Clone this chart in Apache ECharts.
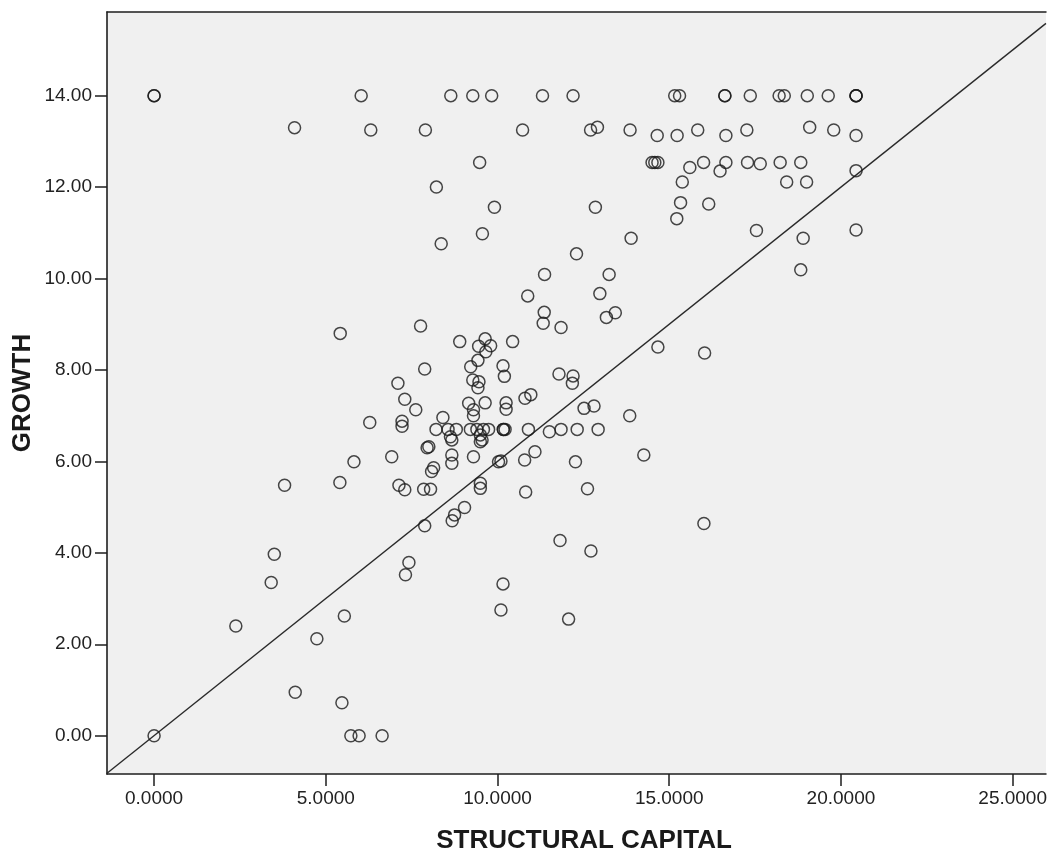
<!DOCTYPE html>
<html>
<head>
<meta charset="utf-8">
<script src="https://cdn.jsdelivr.net/npm/echarts@6/dist/echarts.min.js"></script>
<style>
html,body{margin:0;padding:0;background:#ffffff;}
#c{width:1050px;height:852px;}
</style>
</head>
<body>
<div id="c"></div>
<script>
// STRUCTURAL CAPITAL (x) values, grouped by rows of the picture
const structuralCapital = [
  0, 0, 6.03, 8.64, 9.28, 9.83, 11.31, 12.20, 15.16, 15.30, 16.62, 16.62, 17.36, 18.20, 18.35, 19.02, 19.63, 20.44, 20.44, 20.44,
  4.09, 6.31, 7.90, 10.73, 12.71, 12.91, 13.86, 14.65, 15.23, 15.83, 16.65, 17.26, 19.09, 19.79, 20.44,
  9.48, 14.50, 14.58, 14.67, 15.60, 16.00, 16.48, 16.65, 17.28, 17.65, 18.23, 18.83, 20.44,
  8.22, 15.38, 18.42, 19.00, 9.91, 12.85, 15.33, 16.15, 15.22, 8.36, 9.56, 13.89, 12.30, 17.54, 18.90, 20.44, 18.83, 11.37, 13.25, 10.88, 12.98,
  11.36, 11.33, 11.85, 13.17, 13.43, 7.76, 5.42, 14.67, 16.03,
  8.90, 9.64, 9.45, 9.80, 9.66, 9.43, 9.22, 10.44, 10.16, 10.20, 7.88, 9.28, 9.46, 9.43, 7.10,
  11.79, 12.20, 12.18, 7.30, 7.62, 10.80, 10.97, 10.25, 10.25, 9.64, 9.16, 9.30, 9.30, 8.41, 12.52, 12.81, 13.85, 6.28, 7.22, 7.22,
  8.21, 8.56, 8.80, 9.21, 9.40, 9.59, 9.74, 10.17, 10.17, 10.22, 10.90, 11.51, 11.85, 12.32, 12.93,
  8.63, 8.67, 9.50, 9.55, 9.50, 8.00, 7.95, 6.92, 5.82, 8.67, 8.67, 9.30, 8.14, 8.08, 10.10, 10.03, 10.79, 11.09, 12.27, 14.26,
  9.50, 9.50, 7.85, 8.05, 7.30, 7.13, 5.41, 3.80, 10.82, 12.62, 9.04, 8.75, 8.68, 7.88, 16.01, 11.82, 12.72,
  10.16, 10.10, 12.07, 0, 2.38, 3.41, 3.50, 4.74, 5.54, 4.11, 5.47, 5.73, 5.97, 6.64, 7.32, 7.42
];
// GROWTH (y) values, same order
const growth = [
  14, 14, 14, 14, 14, 14, 14, 14, 14, 14, 14, 14, 14, 14, 14, 14, 14, 14, 14, 14,
  13.30, 13.25, 13.25, 13.25, 13.25, 13.31, 13.25, 13.13, 13.13, 13.25, 13.13, 13.25, 13.31, 13.25, 13.13,
  12.54, 12.54, 12.54, 12.54, 12.43, 12.54, 12.35, 12.54, 12.54, 12.51, 12.54, 12.54, 12.36,
  12.00, 12.11, 12.11, 12.11, 11.56, 11.56, 11.66, 11.63, 11.31, 10.76, 10.98, 10.88, 10.54, 11.05, 10.88, 11.06, 10.19, 10.09, 10.09, 9.62, 9.67,
  9.26, 9.02, 8.93, 9.15, 9.25, 8.96, 8.80, 8.50, 8.37,
  8.62, 8.68, 8.52, 8.53, 8.40, 8.21, 8.07, 8.62, 8.09, 7.86, 8.02, 7.78, 7.74, 7.61, 7.71,
  7.91, 7.87, 7.71, 7.36, 7.13, 7.38, 7.46, 7.28, 7.14, 7.28, 7.27, 7.13, 7.00, 6.96, 7.16, 7.21, 7.00, 6.85, 6.88, 6.77,
  6.70, 6.70, 6.70, 6.70, 6.70, 6.70, 6.70, 6.70, 6.70, 6.70, 6.70, 6.65, 6.70, 6.70, 6.70,
  6.54, 6.47, 6.58, 6.47, 6.43, 6.32, 6.30, 6.10, 5.99, 6.14, 5.96, 6.10, 5.86, 5.78, 6.01, 5.99, 6.03, 6.21, 5.99, 6.14,
  5.52, 5.41, 5.39, 5.39, 5.38, 5.48, 5.54, 5.48, 5.33, 5.40, 4.99, 4.83, 4.70, 4.59, 4.64, 4.27, 4.04,
  3.32, 2.75, 2.55, 0, 2.40, 3.35, 3.97, 2.12, 2.62, 0.95, 0.72, 0, 0, 0, 3.52, 3.79
];
const xTicks = [0, 5, 10, 15, 20, 25];
const yTicks = [0, 2, 4, 6, 8, 10, 12, 14];
const xRange = [-1.371, 25.97];
const yRange = [-0.838, 15.83];
const fitSlope = 0.6;   // fit line through origin
const xTitle = 'STRUCTURAL CAPITAL';
const yTitle = 'GROWTH';

const FONT = '"Liberation Sans", Arial, Helvetica, sans-serif';
const chart = echarts.init(document.getElementById('c'), null, {renderer: 'canvas'});
const points = structuralCapital.map((x, i) => [x, growth[i]]);
const fitLine = [[xRange[0], fitSlope * xRange[0]], [xRange[1], fitSlope * xRange[1]]];

const lineCol = '#1e1e1e';

chart.setOption({
  animation: false,
  grid: {left: 107, right: 0, top: 12, bottom: 78, show: true,
         backgroundColor: '#f0f0f0', borderWidth: 0},
  xAxis: [
    {
      type: 'value', position: 'bottom', min: xRange[0], max: xRange[1],
      splitLine: {show: false},
      axisLine: {show: true, onZero: false, lineStyle: {color: lineCol, width: 1.6}},
      axisTick: {show: true, length: 12, customValues: xTicks, lineStyle: {color: lineCol, width: 1.5}},
      axisLabel: {customValues: xTicks, formatter: v => Number(v).toFixed(4),
                  fontSize: 19, color: '#222', margin: 15, fontFamily: FONT}
    },
    {
      type: 'value', position: 'top', min: xRange[0], max: xRange[1],
      splitLine: {show: false},
      axisLine: {show: true, onZero: false, lineStyle: {color: lineCol, width: 1.6}},
      axisTick: {show: false}, axisLabel: {show: false}
    }
  ],
  yAxis: {
    type: 'value', min: yRange[0], max: yRange[1],
    splitLine: {show: false},
    axisLine: {show: true, onZero: false, lineStyle: {color: lineCol, width: 1.6}},
    axisTick: {show: true, length: 12, customValues: yTicks, lineStyle: {color: lineCol, width: 1.5}},
    axisLabel: {customValues: yTicks, formatter: v => Number(v).toFixed(2),
                fontSize: 19, color: '#222', margin: 15, fontFamily: FONT}
  },
  series: [
    {type: 'line', xAxisIndex: 0, data: fitLine, symbol: 'none', silent: true, z: 1,
     lineStyle: {color: '#2a2a2a', width: 1.4}},
    {type: 'scatter', xAxisIndex: 0, data: points, symbol: 'circle', symbolSize: 12, z: 2,
     itemStyle: {color: 'rgba(0,0,0,0)', borderColor: '#1a1a1a', borderWidth: 1.5}}
  ],
  graphic: [
    {type: 'text', x: 584, y: 841, silent: true,
     style: {text: xTitle, font: 'bold 26px ' + FONT, fill: '#1a1a1a',
             textAlign: 'center', textVerticalAlign: 'middle', align: 'center', verticalAlign: 'middle'}},
    {type: 'text', x: 23, y: 393, rotation: Math.PI / 2, silent: true,
     style: {text: yTitle, font: 'bold 26px ' + FONT, fill: '#1a1a1a',
             textAlign: 'center', textVerticalAlign: 'middle', align: 'center', verticalAlign: 'middle'}}
  ]
});
</script>
</body>
</html>
